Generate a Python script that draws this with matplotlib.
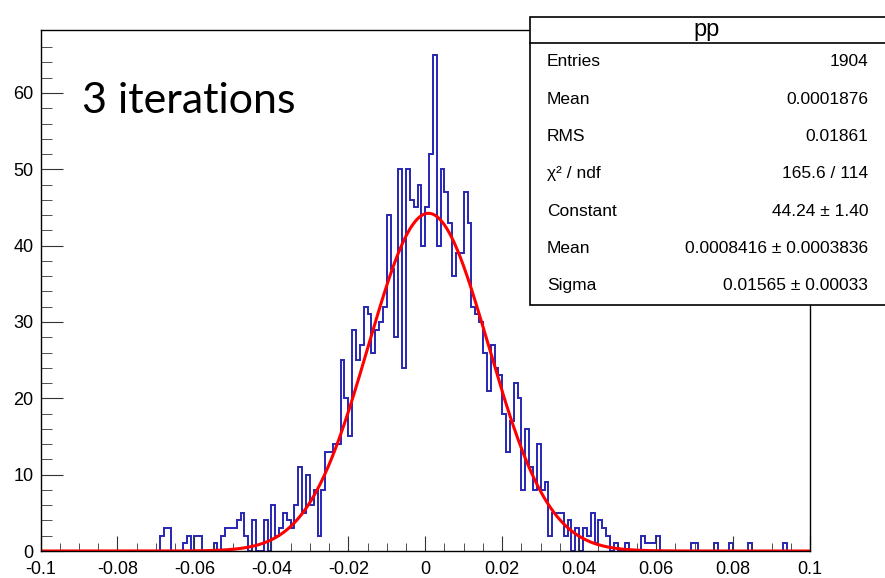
import numpy as np
import matplotlib
matplotlib.use('Agg')
import matplotlib.pyplot as plt
from matplotlib.patches import Rectangle
from matplotlib.lines import Line2D

plt.rcParams['font.family'] = ['Liberation Sans', 'DejaVu Sans']
plt.rcParams['axes.unicode_minus'] = False

# histogram: 200 bins from -0.1 to 0.1
nbins = 200
xmin, xmax = -0.1, 0.1
counts = [
    0, 0, 0, 0, 0, 0, 0, 0, 0, 0, 0, 0, 0, 0, 0, 0, 0, 0, 0, 0,
    0, 0, 0, 0, 0, 0, 0, 0, 0, 0, 0, 2, 3, 3, 0, 0, 0, 1, 2, 0,
    2, 2, 0, 0, 0, 1, 0, 2, 3, 3, 3, 4, 5, 2, 0, 4, 0, 0, 4, 0,
    6, 2, 3, 5, 4, 3, 6, 11, 5, 10, 6, 8, 2, 8, 13, 13, 14, 14, 25, 20,
    15, 29, 25, 27, 32, 31, 26, 29, 30, 32, 44, 37, 28, 50, 24, 50, 46, 45, 48, 40,
    45, 52, 65, 40, 50, 47, 43, 36, 39, 39, 47, 43, 32, 31, 30, 26, 21, 27, 24, 23,
    18, 13, 17, 22, 20, 8, 16, 11, 8, 14, 8, 9, 2, 5, 5, 5, 2, 4, 0, 3,
    0, 3, 2, 5, 1, 4, 3, 2, 0, 1, 0, 0, 1, 0, 0, 0, 2, 1, 1, 1,
    2, 0, 0, 0, 0, 0, 0, 0, 0, 1, 1, 0, 0, 0, 0, 1, 0, 0, 0, 1,
    0, 0, 0, 0, 1, 0, 0, 0, 0, 0, 0, 0, 0, 1, 0, 0, 0, 0, 0, 0,
]

# gaussian fit result
fit_const = 44.24
fit_mean = 0.0008416
fit_sigma = 0.01565

stat_title = 'pp'
stat_labels = ['Entries', 'Mean', 'RMS', 'χ² / ndf', 'Constant', 'Mean', 'Sigma']
stat_values = ['1904', '0.0001876', '0.01861', '165.6 / 114', '44.24 ± 1.40',
               '0.0008416 ± 0.0003836', '0.01565 ± 0.00033']

xtick_vals = [-0.1, -0.08, -0.06, -0.04, -0.02, 0, 0.02, 0.04, 0.06, 0.08, 0.1]
xtick_labels = ['-0.1', '-0.08', '-0.06', '-0.04', '-0.02', '0', '0.02', '0.04', '0.06', '0.08', '0.1']
ytick_vals = [0, 10, 20, 30, 40, 50, 60]

W, H = 885, 578
fig = plt.figure(figsize=(W / 100, H / 100), dpi=100)
left, right, top, bottom = 40.5, 810, 30, 551
ax = fig.add_axes([left / W, 1 - bottom / H, (right - left) / W, (bottom - top) / H])

edges = np.linspace(xmin, xmax, nbins + 1)
ax.stairs(counts, edges, color='#2626b4', lw=1.4)

xf = np.linspace(xmin, xmax, 1000)
yf = fit_const * np.exp(-0.5 * ((xf - fit_mean) / fit_sigma) ** 2)
ax.plot(xf, yf, color='#ff0000', lw=2.2)

ax.set_xlim(xmin, xmax)
ax.set_ylim(0, max(counts) * 1.05)
ax.set_xticks(xtick_vals)
ax.set_xticklabels(xtick_labels)
ax.set_xticks(np.arange(-0.1, 0.1001, 0.005), minor=True)
ax.set_yticks(ytick_vals)
ax.set_yticks(np.arange(0, 68, 2), minor=True)
ax.tick_params(axis='both', which='both', direction='in', labelsize=13, color='#333333')
ax.tick_params(axis='x', which='major', length=11, pad=7)
ax.tick_params(axis='x', which='minor', length=5.5)
ax.tick_params(axis='y', which='major', length=16, pad=5)
ax.tick_params(axis='y', which='minor', length=8)
for s in ax.spines.values():
    s.set_linewidth(1.0)

ax.text(0.054, 0.84, '3 iterations', transform=ax.transAxes, fontsize=31,
        family=['Lato', 'DejaVu Sans'], va='baseline')

# stats box
bx0, by0, by1 = 530, 305, 17
fig.add_artist(Rectangle((bx0 / W, 1 - by0 / H), 1.0, (by0 - by1) / H,
                         transform=fig.transFigure, facecolor='white',
                         edgecolor='black', lw=1.2, zorder=5))
fig.add_artist(Line2D([bx0 / W, 1.0], [1 - 43 / H, 1 - 43 / H], transform=fig.transFigure,
                      color='black', lw=1.2, zorder=6))
fig.text(707 / W, 1 - 30 / H, stat_title, ha='center', va='center', fontsize=17, zorder=7)
for k, (lab, val) in enumerate(zip(stat_labels, stat_values)):
    yy = 1 - (62 + k * 37.3) / H
    fig.text(547 / W, yy, lab, ha='left', va='center', fontsize=12.5, zorder=7)
    fig.text(868 / W, yy, val, ha='right', va='center', fontsize=12.5, zorder=7)

fig.savefig('out.png', dpi=100)
